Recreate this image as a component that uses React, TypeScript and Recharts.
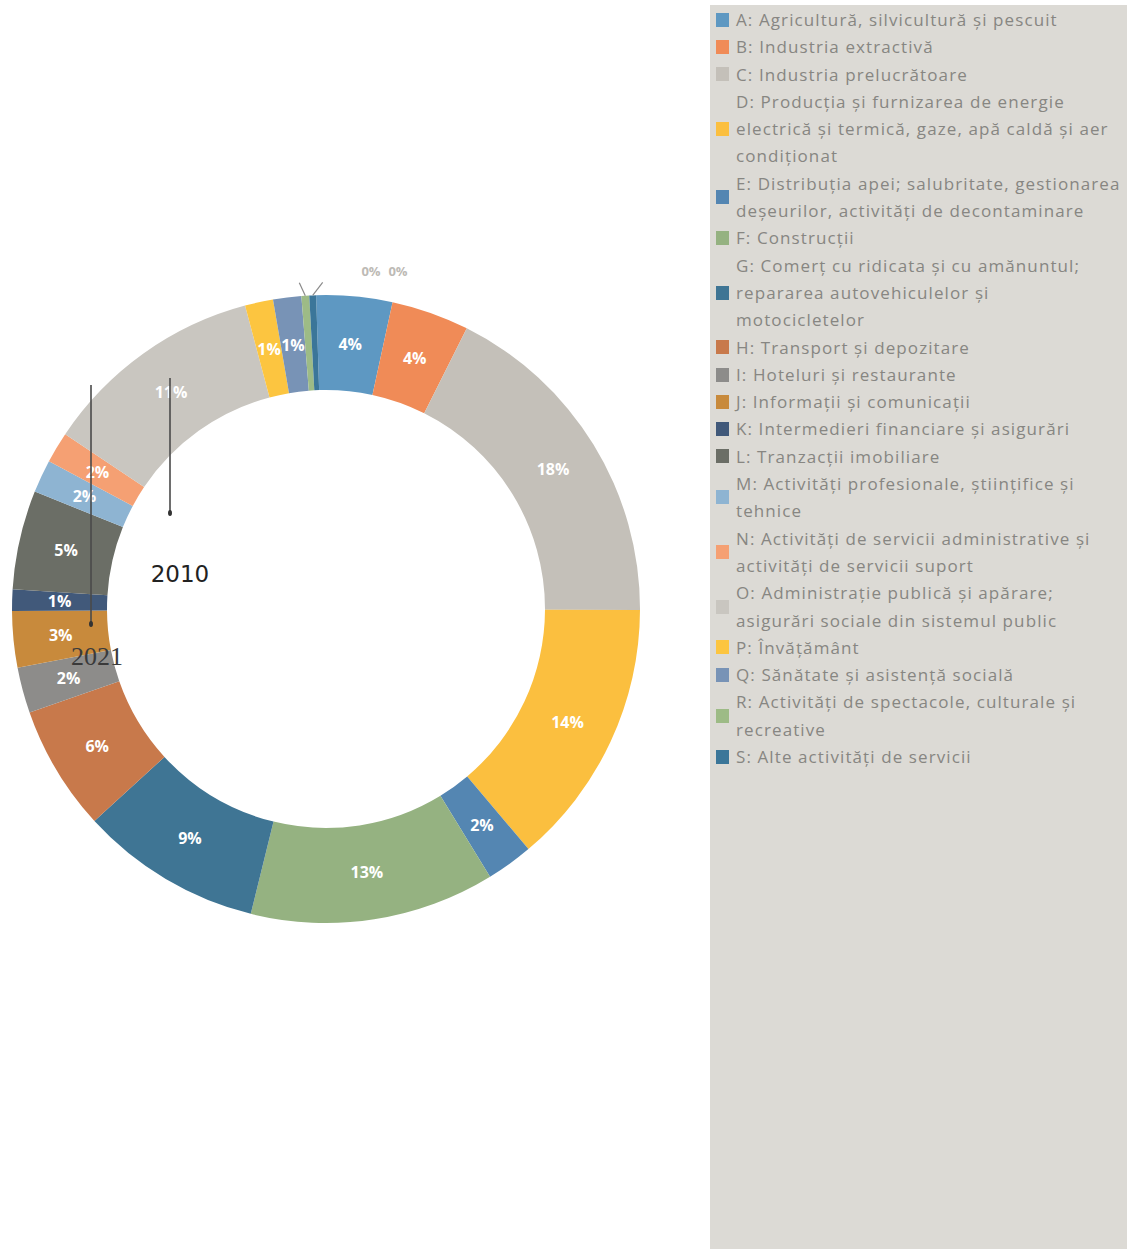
import { PieChart, Pie, Cell, Legend } from 'recharts'

// CAEN sections, share of total (%)
const sections = ['A', 'B', 'C', 'D', 'E', 'F', 'G', 'H', 'I', 'J', 'K', 'L', 'M', 'N', 'O', 'P', 'Q', 'R', 'S']
const shares = [3.9, 4.0, 17.65, 13.8, 2.4, 12.6, 9.35, 6.45, 2.35, 2.9, 1.1, 5.1, 1.7, 1.6, 11.45, 1.45, 1.45, 0.4, 0.35]
const colours = [
  '#5e98c2', '#f08b57', '#c4c0b9', '#fbbf3f', '#5486b2', '#95b281', '#3f7594', '#c8794b', '#8d8c8a', '#c88a3c',
  '#41597a', '#6b6e66', '#8eb4d2', '#f5a073', '#c9c6c0', '#fcc540', '#7893b6', '#9dbb86', '#3b7699',
]
const legendLines = [
  ['A: Agricultură, silvicultură și pescuit'],
  ['B: Industria extractivă'],
  ['C: Industria prelucrătoare'],
  ['D: Producția și furnizarea de energie', 'electrică și termică, gaze, apă caldă și aer', 'condiționat'],
  ['E: Distribuția apei; salubritate, gestionarea', 'deșeurilor, activități de decontaminare'],
  ['F: Construcții'],
  ['G: Comerț cu ridicata și cu amănuntul;', 'repararea autovehiculelor și', 'motocicletelor'],
  ['H: Transport și depozitare'],
  ['I: Hoteluri și restaurante'],
  ['J: Informații și comunicații'],
  ['K: Intermedieri financiare și asigurări'],
  ['L: Tranzacții imobiliare'],
  ['M: Activități profesionale, științifice și', 'tehnice'],
  ['N: Activități de servicii administrative și', 'activități de servicii suport'],
  ['O: Administrație publică și apărare;', 'asigurări sociale din sistemul public'],
  ['P: Învățământ'],
  ['Q: Sănătate și asistență socială'],
  ['R: Activități de spectacole, culturale și', 'recreative'],
  ['S: Alte activități de servicii'],
]

const data = sections.map((s, i) => ({ name: s, value: shares[i] }))

const RAD = Math.PI / 180

const renderLabel = (props: any) => {
  const { cx, cy, midAngle, innerRadius, outerRadius, percent, index } = props
  const pct = `${Math.round(percent * 100)}%`
  if (percent < 0.005) {
    // tiny slices: label outside, with a short leader line
    const side = index === sections.length - 1 ? 1 : -1
    const x0 = cx + outerRadius * Math.cos(-midAngle * RAD)
    const y0 = cy + outerRadius * Math.sin(-midAngle * RAD)
    const tx = cx + 45 + (side > 0 ? 27 : 0)
    return (
      <g key={`lbl-${index}`}>
        <line x1={x0} y1={y0} x2={x0 + side * (side > 0 ? 10 : 6)} y2={y0 - 13} stroke="#8a8a8a" strokeWidth={1.2} />
        <text x={tx} y={cy - outerRadius - 24} fill="#bdbab5" fontSize={13} fontWeight={700} textAnchor="middle"
          dominantBaseline="central" fontFamily="'Open Sans', sans-serif">{pct}</text>
      </g>
    )
  }
  const r = (innerRadius + outerRadius) / 2
  const x = cx + r * Math.cos(-midAngle * RAD)
  const y = cy + r * Math.sin(-midAngle * RAD)
  return (
    <text key={`lbl-${index}`} x={x} y={y} fill="#ffffff" fontSize={16} fontWeight={700} textAnchor="middle"
      dominantBaseline="central" fontFamily="'Open Sans', sans-serif">{pct}</text>
  )
}

const LegendPanel = () => (
  <div style={{
    width: '100%', height: '100%', background: '#dcdad5', boxSizing: 'border-box', padding: '1px 0 0 6px',
    fontFamily: "'Open Sans', sans-serif", fontSize: 17, letterSpacing: 1.1, color: '#878682', lineHeight: '27.3px',
  }}>
    {legendLines.map((lines, i) => (
      <div key={sections[i]} style={{ display: 'flex', alignItems: 'center' }}>
        <span style={{ width: 13, height: 14, background: colours[i], flexShrink: 0, marginRight: 7 }} />
        <div style={{ whiteSpace: 'nowrap' }}>
          {lines.map((l) => <div key={l}>{l}</div>)}
        </div>
      </div>
    ))}
  </div>
)

export default function App() {
  return (
    <div style={{ position: 'absolute', left: 0, top: 0, width: 1131, height: 1249, background: '#fff' }}>
      <PieChart width={1131} height={1249} margin={{ top: 0, right: 0, bottom: 0, left: 0 }}>
        <Pie
          data={data}
          dataKey="value"
          nameKey="name"
          cx={326}
          cy={609}
          innerRadius={219}
          outerRadius={314}
          startAngle={91.8}
          endAngle={-268.2}
          stroke="none"
          labelLine={false}
          label={renderLabel}
          isAnimationActive={false}
        >
          {data.map((d, i) => <Cell key={d.name} fill={colours[i]} />)}
        </Pie>
        <Legend
          content={() => <LegendPanel />}
          wrapperStyle={{ position: 'absolute', left: 710, top: 5, width: 417, height: 1244 }}
        />
      </PieChart>
      {/* pencil annotations over the donut */}
      <svg width={1131} height={1249} style={{ position: 'absolute', left: 0, top: 0, pointerEvents: 'none' }}>
        <line x1={170} y1={378} x2={170} y2={514} stroke="#4a4a4a" strokeWidth={1.6} />
        <ellipse cx={170} cy={513} rx={2} ry={3} fill="#333" />
        <line x1={91} y1={385} x2={91} y2={626} stroke="#4a4a4a" strokeWidth={1.6} />
        <ellipse cx={91} cy={624} rx={2} ry={3} fill="#333" />
        <text x={180} y={582} textAnchor="middle" fontFamily="'DejaVu Sans', sans-serif" fontSize={23} fill="#222">2010</text>
        <text x={97} y={665} textAnchor="middle" fontFamily="'Liberation Serif', serif" fontSize={26} fill="#3a3a3a">2021</text>
      </svg>
    </div>
  )
}
